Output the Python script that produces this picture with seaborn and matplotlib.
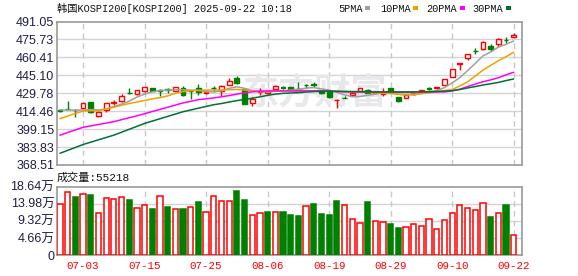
import numpy as np
import pandas as pd
import matplotlib
matplotlib.use("Agg")
import matplotlib.pyplot as plt
from matplotlib.patches import Rectangle
import seaborn as sns

# ---------------- data ----------------
dates = ["06-30", "07-01", "07-02", "07-03", "07-04", "07-07", "07-08", "07-09", "07-10", "07-11",
         "07-14", "07-15", "07-16", "07-17", "07-18", "07-21", "07-22", "07-23", "07-24", "07-25",
         "07-28", "07-29", "07-30", "07-31", "08-01", "08-04", "08-05", "08-06", "08-07", "08-08",
         "08-11", "08-12", "08-13", "08-14", "08-18", "08-19", "08-20", "08-21", "08-22", "08-25",
         "08-26", "08-27", "08-28", "08-29", "09-01", "09-02", "09-03", "09-04", "09-05", "09-08",
         "09-09", "09-10", "09-11", "09-12", "09-15", "09-16", "09-17", "09-18", "09-19", "09-22"]

open_ = [415.0, 416.5, 415.3, 417.5, 422.3, 410.6, 415.2, 421.6, 423.2, 430.0,
         428.9, 431.3, 434.3, 432.4, 433.0, 431.7, 434.0, 432.0, 434.0, 430.0,
         434.6, 432.0, 437.1, 443.1, 433.2, 421.2, 430.8, 429.9, 433.7, 434.8,
         434.9, 433.6, 437.0, 437.3, 431.7, 431.7, 423.6, 425.8, 428.3, 432.0,
         432.6, 430.0, 429.5, 434.0, 426.8, 425.5, 429.2, 430.6, 433.9, 434.3,
         436.8, 443.9, 454.4, 460.1, 466.1, 467.6, 470.4, 471.6, 475.5, 477.8]
high = [416.3, 423.2, 416.3, 421.8, 422.5, 414.2, 421.5, 423.8, 428.8, 434.3,
        432.5, 435.3, 434.6, 433.0, 434.3, 435.0, 436.0, 432.6, 437.7, 432.6,
        436.1, 437.0, 443.1, 444.8, 433.8, 426.3, 434.3, 431.5, 436.5, 435.6,
        435.2, 439.1, 438.0, 439.0, 432.0, 432.3, 424.5, 427.7, 430.0, 434.3,
        433.0, 431.5, 434.0, 434.3, 427.0, 428.6, 430.4, 432.8, 434.9, 434.9,
        442.3, 450.9, 455.5, 463.6, 468.2, 474.6, 471.6, 476.6, 477.6, 481.5]
low = [413.6, 416.0, 409.2, 416.6, 412.8, 409.2, 413.8, 420.0, 422.3, 429.3,
       428.5, 431.0, 431.8, 427.4, 430.3, 431.5, 427.4, 424.6, 428.6, 428.9,
       431.0, 427.4, 436.5, 437.4, 420.4, 418.9, 428.6, 429.5, 433.2, 433.5,
       433.0, 433.0, 434.5, 435.4, 429.4, 425.5, 417.5, 425.3, 427.4, 431.7,
       430.0, 429.5, 427.4, 430.3, 422.6, 425.3, 428.4, 430.4, 432.6, 433.0,
       436.5, 443.5, 449.6, 458.2, 463.3, 466.8, 465.8, 469.5, 473.0, 477.6]
close = [414.9, 416.3, 415.1, 421.2, 413.5, 413.8, 421.2, 422.3, 427.7, 429.6,
         432.2, 434.9, 432.0, 432.0, 432.7, 434.7, 428.6, 431.7, 431.1, 430.6,
         434.3, 436.0, 440.5, 438.3, 420.6, 425.1, 431.6, 431.3, 436.0, 434.4,
         433.2, 433.2, 436.7, 437.0, 429.7, 426.8, 424.3, 425.5, 429.7, 434.0,
         430.3, 430.8, 429.9, 430.5, 423.4, 428.3, 430.3, 432.6, 433.6, 434.7,
         441.7, 450.5, 455.2, 463.3, 465.8, 473.6, 467.3, 476.1, 475.2, 479.8]

ma5 = [415.5, 415.5, 415.3, 415.5, 415.8, 415.5, 416.3, 418.5, 420.5, 423.0,
       426.5, 429.0, 431.0, 432.0, 432.5, 432.8, 432.8, 432.5, 432.3, 431.0,
       431.0, 431.8, 434.0, 435.3, 434.0, 432.0, 431.0, 431.2, 431.5, 431.8,
       432.5, 433.0, 434.2, 434.6, 433.5, 432.5, 430.5, 428.5, 426.8, 427.0,
       428.0, 429.0, 430.3, 430.8, 428.8, 428.3, 428.5, 429.5, 431.0, 432.0,
       434.6, 438.6, 443.1, 449.0, 455.3, 461.7, 465.0, 469.2, 471.6, 474.4]
ma10 = [408.1, 410.3, 412.5, 414.6, 414.8, 414.9, 416.3, 417.8, 419.5, 421.0,
        422.3, 423.6, 425.0, 426.0, 427.5, 429.8, 431.2, 432.0, 432.2, 432.5,
        432.6, 432.6, 432.8, 433.0, 432.5, 431.8, 431.4, 431.4, 431.6, 431.7,
        431.8, 431.8, 431.8, 431.9, 432.0, 431.8, 431.6, 431.3, 431.2, 431.0,
        430.5, 430.0, 429.8, 429.5, 428.9, 428.8, 429.0, 429.5, 430.2, 431.0,
        432.0, 433.0, 436.0, 439.5, 444.5, 449.5, 453.5, 457.5, 461.0, 464.8]
ma20 = [393.9, 396.3, 398.5, 400.7, 401.9, 403.1, 404.3, 405.5, 407.2, 408.9,
        410.5, 412.3, 414.2, 416.0, 417.8, 419.7, 421.5, 422.9, 424.3, 425.0,
        425.8, 426.8, 427.8, 429.0, 430.2, 431.0, 431.5, 431.7, 431.7, 431.8,
        431.8, 431.8, 431.8, 431.8, 431.8, 431.6, 431.3, 431.0, 430.9, 430.9,
        430.9, 430.9, 430.9, 430.9, 430.9, 430.9, 430.9, 430.9, 430.9, 430.9,
        430.9, 431.8, 433.2, 435.5, 437.6, 439.6, 441.2, 443.0, 445.5, 447.7]
ma30 = [378.5, 381.0, 383.5, 386.0, 388.0, 390.0, 392.0, 394.0, 396.5, 399.0,
        401.5, 404.0, 406.0, 408.0, 410.0, 412.0, 414.0, 415.5, 417.0, 418.5,
        420.0, 421.0, 422.3, 423.5, 424.5, 425.5, 426.7, 428.0, 429.0, 429.7,
        430.0, 430.3, 430.8, 431.2, 431.5, 431.6, 431.4, 431.3, 431.2, 431.2,
        431.0, 430.9, 430.9, 430.9, 430.8, 430.8, 430.9, 431.0, 431.1, 431.3,
        431.6, 432.0, 433.0, 434.3, 435.5, 436.8, 437.9, 439.0, 440.6, 442.0]

volume = [139500, 171000, 156600, 167000, 162000, 115000, 156000, 153000, 158000, 148500,
          129000, 137000, 124000, 161000, 130000, 126000, 124000, 131000, 143000, 118000,
          161000, 146000, 146000, 173000, 151000, 110000, 115000, 116000, 116000, 116000,
          109000, 106000, 134000, 139000, 112000, 109000, 147000, 135000, 98000, 86000,
          145000, 92000, 89000, 85000, 74000, 76000, 84000, 79000, 98000, 71000,
          95000, 115000, 136000, 128000, 123000, 142000, 104000, 115000, 136000, 55218]
vol_up = [1, 1, 0, 1, 0, 1, 1, 1, 1, 0, 1, 1, 0, 1, 0, 1, 0, 1, 0, 1,
          1, 1, 1, 0, 0, 1, 1, 0, 1, 0, 0, 0, 1, 0, 0, 0, 0, 1, 1, 1,
          0, 1, 1, 0, 0, 1, 1, 1, 1, 1, 1, 1, 1, 1, 1, 1, 0, 1, 0, 1]

price_ticks = [368.51, 383.83, 399.15, 414.46, 429.78, 445.10, 460.41, 475.73, 491.05]
vol_ticks = [0, 46600, 93200, 139800, 186400]
vol_tick_labels = ["0", "4.66万", "9.32万", "13.98万", "18.64万"]
label_dates = ["07-03", "07-15", "07-25", "08-06", "08-19", "08-29", "09-10", "09-22"]

title_text = "韩国KOSPI200[KOSPI200] 2025-09-22 10:18"
ma_names = ["5PMA", "10PMA", "20PMA", "30PMA"]
vol_title = "成交量:55218"

# ---------------- style ----------------
sns.set_style("white")
plt.rcParams["font.family"] = ["Liberation Sans", "Noto Sans CJK SC"]

RED = "#ff0000"
GREEN = "#008000"
MA_COLORS = ["#a0a0a0", "#f0a000", "#ff00ff", "#007038"]
FRAME = "#999999"
GRID = "#d4d4d4"
LBL = "#1e1e46"

W, H = 578, 276
fig = plt.figure(figsize=(W / 100, H / 100), dpi=100)
fig.patch.set_facecolor("white")


def ax_rect(l, t, r, b):
    return [l / W, 1 - b / H, (r - l) / W, (b - t) / H]


axp = fig.add_axes(ax_rect(57, 21.5, 522, 165))
axv = fig.add_axes(ax_rect(57, 186.5, 522, 255))

n = len(dates)
idx = np.arange(n)
xlim = (-0.39, 60.08)
tick_pos = [dates.index(d) for d in label_dates]

for ax in (axp, axv):
    ax.set_xlim(*xlim)
    for s in ax.spines.values():
        s.set_color(FRAME)
        s.set_linewidth(1.2)
    ax.set_xticks(tick_pos)
    ax.tick_params(length=0)
    for p in tick_pos:
        ax.axvline(p, color="#c8c8c8", lw=1, ls=(0, (4, 3)), zorder=0.5)

# ---- price panel ----
axp.set_ylim(price_ticks[0], price_ticks[-1])
axp.set_yticks(price_ticks)
axp.set_yticklabels([f"{v:.2f}" for v in price_ticks], color=LBL, fontsize=9)
axp.tick_params(axis="y", pad=2)
axp.set_xticklabels([])
for v in price_ticks[1:-1]:
    axp.axhline(v, color=GRID, lw=1, zorder=0.4)

axp.text(0.555, 0.5, "东方财富", transform=axp.transAxes, ha="center", va="center",
         fontsize=26, fontweight="bold", color="#e8e8ec", family="Noto Sans CJK SC", zorder=0.6)

o = np.array(open_); c = np.array(close); hi = np.array(high); lo = np.array(low)
up = c > o
cols = np.where(up, RED, GREEN)
axp.vlines(idx, lo, hi, colors=cols, lw=1, zorder=2)
body_h = np.maximum(np.abs(c - o), 0.25)
axp.bar(idx, body_h, bottom=np.minimum(o, c), width=0.62,
        color=np.where(up, "white", GREEN), edgecolor=cols, linewidth=1, zorder=3)

ma_df = pd.DataFrame({"idx": idx, "5PMA": ma5, "10PMA": ma10, "20PMA": ma20, "30PMA": ma30})
for name, col in zip(ma_names, MA_COLORS):
    sns.lineplot(data=ma_df, x="idx", y=name, color=col, lw=1.1, ax=axp, zorder=4)
axp.set_xlabel(""); axp.set_ylabel("")
axp.set_xlim(*xlim)

# ---- volume panel ----
vol_df = pd.DataFrame({"idx": idx, "vol": volume, "up": vol_up})
up_df = vol_df[vol_df["up"] == 1]
dn_df = vol_df[vol_df["up"] == 0]
sns.barplot(data=up_df, x="idx", y="vol", native_scale=True, width=0.68, errorbar=None,
            color="white", saturation=1, edgecolor=RED, linewidth=1.1, ax=axv, zorder=3)
sns.barplot(data=dn_df, x="idx", y="vol", native_scale=True, width=0.68, errorbar=None,
            color=GREEN, saturation=1, edgecolor=GREEN, linewidth=1.1, ax=axv, zorder=3)
axv.set_xlim(*xlim)
axv.set_ylim(0, vol_ticks[-1])
axv.set_yticks(vol_ticks)
axv.set_yticklabels(vol_tick_labels, color=LBL, fontsize=9)
axv.tick_params(axis="y", pad=2)
for v in vol_ticks[1:-1]:
    axv.axhline(v, color=GRID, lw=1, zorder=0.4)
axv.set_xticks(tick_pos)
axv.set_xticklabels(label_dates, color=RED, fontsize=7.8, family=["Liberation Mono", "DejaVu Sans Mono"])
axv.tick_params(axis="x", pad=4)
axv.set_xlabel(""); axv.set_ylabel("")

# ---- header texts ----
mono = ["Liberation Mono", "Noto Sans CJK SC"]
fig.text(57 / W, 1 - 8.5 / H, title_text, ha="left", va="center", fontsize=7.4,
         family=mono, color="#111111")
fig.text(57 / W, 1 - 177.5 / H, vol_title, ha="left", va="center", fontsize=8,
         family=mono, color="#111111")
leg_x = [338, 380, 426, 472]
sq_x = [365, 413, 460, 506]
for name, col, tx, sx in zip(ma_names, MA_COLORS, leg_x, sq_x):
    fig.text(tx / W, 1 - 8.5 / H, name, ha="left", va="center", fontsize=7.4,
             family=mono, color="#111111")
    fig.add_artist(Rectangle((sx / W, 1 - 10 / H), 5 / W, 3.5 / H, transform=fig.transFigure,
                             facecolor=col, edgecolor="none"))

fig.savefig("out.png", dpi=100, facecolor="white")
